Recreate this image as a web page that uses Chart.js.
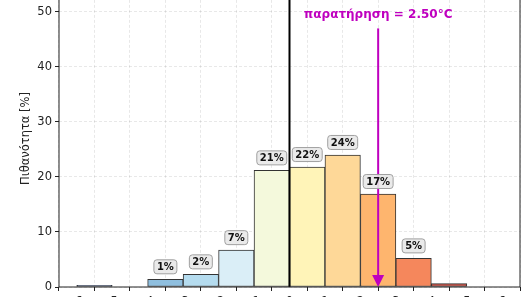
<!DOCTYPE html>
<html>
<head>
<meta charset="utf-8">
<script src="https://cdn.jsdelivr.net/npm/chart.js@4"></script>
<style>
  html, body { margin: 0; padding: 0; background: #fff; overflow: hidden; }
  #wrap { position: relative; width: 527px; height: 297px; overflow: hidden; }
  #chart { position: absolute; left: 0; top: -20px; }
</style>
</head>
<body>
<div id="wrap"><canvas id="chart" width="527" height="337"></canvas></div>
<script>
// histogram bins (°C) and probability per bin (%)
const binCenters = [-5.5, -4.5, -3.5, -2.5, -1.5, -0.5, 0.5, 1.5, 2.5, 3.5, 4.5, 5.5];
const probs = [0.3, 0, 1.4, 2.3, 6.7, 21.2, 21.8, 24.0, 16.9, 5.2, 0.6, 0];
const barLabels = ['', '', '1%', '2%', '7%', '21%', '22%', '24%', '17%', '5%', '', ''];
const barColors = ['#3e4f70', '#ffffff', '#8fbfdf', '#b5dcef', '#daeef7', '#f4f9dc',
                   '#fff4b8', '#fed898', '#feb56e', '#f5875c', '#c9554a', '#ffffff'];
const xTicks = [-6, -5, -4, -3, -2, -1, 0, 1, 2, 3, 4, 5, 6];
const yTicks = [0, 10, 20, 30, 40, 50];
const obsValue = 2.5;
const obsText = 'παρατήρηση = 2.50°C';
const yTitle = 'Πιθανότητα [%]';

const FONT = "'DejaVu Sans', sans-serif";
const MAGENTA = '#bf00bf';

const extras = {
  id: 'extras',
  afterDatasetsDraw(chart) {
    const ctx = chart.ctx;
    const xs = chart.scales.x, ys = chart.scales.y;
    const area = chart.chartArea;
    ctx.save();
    ctx.beginPath();
    ctx.rect(area.left, area.top, area.right - area.left, area.bottom - area.top);
    ctx.clip();

    // zero line
    const x0 = xs.getPixelForValue(0);
    ctx.strokeStyle = '#000';
    ctx.lineWidth = 2;
    ctx.beginPath();
    ctx.moveTo(x0, area.top);
    ctx.lineTo(x0, area.bottom);
    ctx.stroke();

    // observation arrow
    const xo = xs.getPixelForValue(obsValue);
    const yStart = ys.getPixelForValue(47);
    const yEnd = ys.getPixelForValue(0);
    ctx.strokeStyle = MAGENTA;
    ctx.fillStyle = MAGENTA;
    ctx.lineWidth = 2;
    ctx.beginPath();
    ctx.moveTo(xo, yStart);
    ctx.lineTo(xo, yEnd - 10);
    ctx.stroke();
    ctx.beginPath();
    ctx.moveTo(xo - 6, yEnd - 12);
    ctx.lineTo(xo + 6, yEnd - 12);
    ctx.lineTo(xo, yEnd);
    ctx.closePath();
    ctx.fill();

    ctx.font = 'bold 12px ' + FONT;
    ctx.textAlign = 'center';
    ctx.textBaseline = 'middle';
    ctx.fillText(obsText, xo, ys.getPixelForValue(49.4));

    // bar labels
    const meta = chart.getDatasetMeta(0);
    ctx.font = 'bold 10px ' + FONT;
    barLabels.forEach((lab, i) => {
      if (!lab) return;
      const bar = meta.data[i];
      const cy = bar.y - 12.5;
      const w = ctx.measureText(lab).width + 6;
      const h = 14;
      ctx.beginPath();
      ctx.roundRect(bar.x - w / 2, cy - h / 2, w, h, 3);
      ctx.fillStyle = 'rgba(232,232,232,0.9)';
      ctx.fill();
      ctx.strokeStyle = '#a0a0a0';
      ctx.lineWidth = 1;
      ctx.stroke();
      ctx.fillStyle = '#111';
      ctx.fillText(lab, bar.x, cy + 0.5);
    });
    ctx.restore();

    // spines
    ctx.save();
    ctx.strokeStyle = '#222';
    ctx.lineWidth = 1;
    ctx.strokeRect(area.left, area.top, area.right - area.left, area.bottom - area.top);

    // y title
    ctx.font = '11.5px ' + FONT;
    ctx.fillStyle = '#222';
    ctx.translate(26, (area.top + area.bottom) / 2);
    ctx.rotate(-Math.PI / 2);
    ctx.textAlign = 'center';
    ctx.textBaseline = 'middle';
    ctx.fillText(yTitle, 0, 0);
    ctx.restore();
  }
};

new Chart(document.getElementById('chart'), {
  type: 'bar',
  data: {
    datasets: [{
      data: binCenters.map((c, i) => ({ x: c, y: probs[i] })),
      backgroundColor: barColors,
      borderColor: '#333333',
      borderWidth: ctx => (probs[ctx.dataIndex] > 0 ? 1 : 0),
      borderSkipped: false,
      barPercentage: 1,
      categoryPercentage: 1
    }]
  },
  options: {
    responsive: false,
    animation: false,
    devicePixelRatio: 1,
    layout: { padding: { top: 8.4, right: 7, bottom: 0, left: 0 } },
    plugins: { legend: { display: false }, tooltip: { enabled: false } },
    scales: {
      x: {
        type: 'linear',
        offset: false,
        min: -6.5,
        max: 6.5,
        afterBuildTicks: s => { s.ticks = xTicks.map(v => ({ value: v })); },
        afterFit: s => { s.height = 30; },
        ticks: { font: { family: FONT, size: 11.5 }, color: '#222', padding: 4, maxRotation: 0, autoSkip: false },
        grid: { color: 'rgba(0,0,0,0.09)', tickColor: '#222', tickLength: 4 },
        border: { display: false, dash: [3, 2] }
      },
      y: {
        min: 0,
        max: 54,
        afterBuildTicks: s => { s.ticks = yTicks.map(v => ({ value: v })); },
        afterFit: s => { s.width = 59; },
        ticks: { font: { family: FONT, size: 11.5 }, color: '#222', padding: 3 },
        grid: { color: 'rgba(0,0,0,0.09)', tickColor: '#222', tickLength: 4 },
        border: { display: false, dash: [3, 2] }
      }
    }
  },
  plugins: [extras]
});
</script>
</body>
</html>
